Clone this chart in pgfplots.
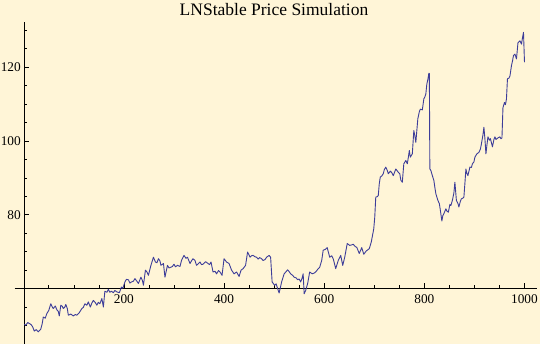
\documentclass[border=0pt]{standalone}
\usepackage{pgfplots}
\pgfplotsset{compat=1.18}
\usepackage{fontspec}
\setmainfont{Liberation Serif}
\definecolor{bgcream}{RGB}{255,245,215}
\definecolor{mmablue}{rgb}{0.24,0.24,0.6}
\pgfplotstableread{
x y
1 50.3
4 50.1
8 50.8
12 50.5
15 50.2
18 49.6
21 48.5
25 48.9
29 48.3
34 49
37 50.6
39 52.3
43 52.0
46 53.2
50 54.1
54 55.9
57 55.0
59 54.6
63 55.3
66 54.3
69 53.8
71 52.6
74 55.5
77 55.2
79 54.6
82 55.0
84 55.7
87 54.6
89 52.8
94 53.1
99 52.6
103 53.0
106 52.8
111 53.5
116 54.6
119 54.9
122 55.9
126 55.5
129 56.4
133 55
136 56.1
139 56.8
143 56.2
146 55.5
149 56.3
152 55.9
156 57.3
159 55
162 59.3
166 59.0
169 59.8
172 59.0
175 59.3
179 58.9
182 59.5
186 59.1
191 58.9
195 60.4
198 60.1
202 61.8
205 62.5
209 62.4
212 61.5
215 61.8
219 62.0
222 62.7
226 62.0
229 61.4
234 63.1
237 62.2
239 60.9
243 65
246 64.5
249 63.6
254 66.3
259 68.5
263 67.2
266 67.0
269 68.1
272 67.5
274 66.3
279 66.8
282 63.1
287 66.3
290 65.6
294 65.8
297 66.0
300 66.6
303 65.9
307 66.3
312 66
315 67.6
320 69
324 68.2
327 68.5
332 66.8
335 67.5
338 68.1
342 67.6
345 66.3
349 66.8
352 67.2
355 66.5
358 66.6
363 67.3
367 66.9
371 66.5
374 67.2
378 64.5
382 64.7
385 64
389 64.9
392 64.5
396 63.6
400 68.1
405 67.2
410 66.8
415 65
420 64
425 64.5
430 63.3
434 65
438 65.4
443 66.3
447 69.9
452 68.5
455 68.9
458 69
462 68.6
465 68.5
468 68.0
471 68.4
475 68.1
478 67.6
482 67.9
485 68.5
490 69
493 68.5
496 61.8
501 60.9
504 61.3
507 60
510 58.8
515 61.8
520 64
524 64.6
527 65.1
530 64.6
533 64
537 63.6
540 63.1
544 62.9
547 62.4
550 62.6
553 61.8
556 62.9
558 64
560 58.6
563 59.5
567 61.4
571 64.5
576 64
580 64.2
583 64.5
587 65.2
591 65.8
595 67.6
598 70.4
602 70.6
606 71.1
611 68.5
615 68.9
618 68.1
623 65.4
628 67.6
633 69
637 66.3
641 68.5
646 72.2
651 71.7
654 71.8
658 72
662 71.4
665 71.2
670 69.5
675 71.1
679 69.3
684 70.2
690 70.8
694 72.6
699 76.2
701 79.4
703 84.8
706 84.9
708 85.2
710 88.4
712 90.2
715 90.5
718 91.1
720 92.2
723 92.9
726 92.0
728 91.1
732 91.8
735 91.4
738 90.6
743 92.4
748 91.5
751 91.1
753 89.4
756 88.8
759 93.8
763 94.7
766 93.8
768 95.5
770 97.4
772 95.6
776 96.5
779 102.8
781 101.4
783 99.6
787 106
790 107.9
792 108.6
796 108.4
799 111.4
801 111.9
803 112.7
805 115.4
807 116.6
809 118.3
810 118.3
811 92.4
813 92.0
816 90.6
819 89.3
821 87.4
823 85.7
827 83.9
830 83.0
832 81.2
835 78.3
837 79.8
839 80.3
843 81.6
845 81.0
848 80.7
851 82.8
853 82.5
856 83.9
859 85.9
861 88.8
864 83.9
867 83.1
869 82.1
872 83.7
874 84.3
877 84.5
879 84.8
881 88.5
883 92.4
885 91.2
887 90.6
891 92.9
894 92.8
896 93.8
899 94.3
901 95.6
905 96.5
909 96.9
912 97.8
914 99.2
917 101.6
919 103.7
921 100.5
923 96.5
925 98.9
927 101.1
930 100.2
932 100.6
936 98.4
939 100.4
941 101.1
943 100.4
945 100.6
948 100.9
951 101.1
953 100.6
955 100.8
957 109
960 110.4
962 109.8
964 111.4
966 116.8
969 117.0
971 117.6
974 120.4
976 121.6
978 123.1
981 123.5
984 122.2
987 126.6
991 127.1
994 126.2
996 127.9
998 129.4
1000 121.3
}\pricedata
\begin{document}
\begin{tikzpicture}[x=1pt,y=1pt]
\fill[bgcream] (0,0) rectangle (540,344);
\useasboundingbox (0,0) rectangle (540,344);
\begin{axis}[
  at={(24.25pt,0pt)}, anchor=south west,
  scale only axis, width=512.75pt, height=322pt,
  xmin=1, xmax=1025, ymin=45, ymax=132.2,
  axis x line=bottom, axis y line=left,
  axis x line shift=-55.7pt,
  axis line style={-, black, line width=0.8pt},
  xtick={200,400,600,800,1000},
  minor xtick={50,100,150,250,300,350,450,500,550,650,700,750,850,900,950},
  ytick={80,100,120},
  minor ytick={50,55,60,65,70,75,85,90,95,105,110,115,125,130},
  tick align=inside,
  major tick length=5pt, minor tick length=3pt,
  tick style={black, line width=0.6pt},
  /pgf/number format/assume math mode=true,
  /pgf/number format/1000 sep={},
  ticklabel style={font=\fontsize{13.3}{16}\selectfont},
  xticklabel style={yshift=-3pt},
  clip=false,
]
\addplot[mmablue, line width=0.9pt, line join=round] table[x=x,y=y] {\pricedata};
\draw[black, line width=0.8pt] (axis cs:-18,60) -- (axis cs:1,60);
\end{axis}
\node[anchor=base, font=\fontsize{17.5}{20}\selectfont] at (274,328) {LNStable Price Simulation};
\end{tikzpicture}
\end{document}
